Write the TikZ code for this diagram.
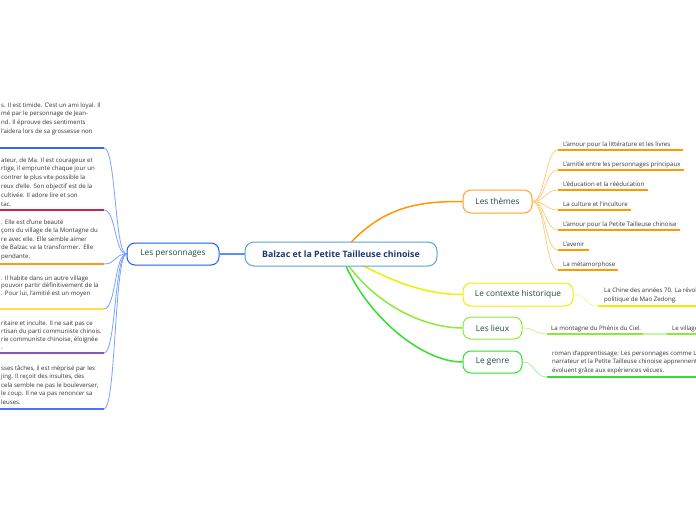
\documentclass[tikz,border=0pt]{standalone}
\usepackage{fontspec}
\setmainfont{Open Sans}
\usetikzlibrary{backgrounds}
\definecolor{leafgray}{HTML}{333333}
\definecolor{brtext}{HTML}{1E4D3B}
\definecolor{maintext}{HTML}{1C3A6E}
\definecolor{mainblue}{HTML}{5BA3E0}
\definecolor{persblue}{HTML}{1A5CFF}
\definecolor{persline}{HTML}{5B8FF0}
\definecolor{leftconn}{HTML}{7AA2FF}
\definecolor{thmorange}{HTML}{FFA424}
\definecolor{orangeul}{HTML}{FF9900}
\definecolor{orangelight}{HTML}{FFCF80}
\definecolor{ctxyellow}{HTML}{EEF000}
\definecolor{yellowlight}{HTML}{F2F7A0}
\definecolor{lieuxgreen}{HTML}{8FE83C}
\definecolor{lieuxlight}{HTML}{C8F5A0}
\definecolor{genregreen}{HTML}{33DD33}
\definecolor{genrelight}{HTML}{A8F0A8}
\definecolor{ulblue}{HTML}{3366FF}
\definecolor{ulred}{HTML}{CC2244}
\definecolor{ulorange}{HTML}{FF9922}
\definecolor{ulyellow}{HTML}{FFE040}
\definecolor{ulpurple}{HTML}{8855BB}
\definecolor{ulblue2}{HTML}{4477FF}
\begin{document}
\begin{tikzpicture}[x=1pt,y=-1pt,
  lf/.style={font=\fontsize{6.1}{7.5}\selectfont, text=leafgray, inner sep=0pt, anchor=base west},
  br/.style={draw, rounded corners=8pt, fill=white, line width=1pt, font=\fontsize{8.3}{10}\selectfont, text=brtext, inner sep=0pt},
  mainbox/.style={draw=mainblue, rounded corners=9pt, fill=white, line width=1pt, font=\bfseries\fontsize{8.8}{11}\selectfont, text=maintext, inner sep=0pt, minimum width=192pt, minimum height=24pt},
  ul/.style={line width=1.8pt},
  cn/.style={line width=0.8pt},
  mc/.style={line width=1.5pt}]
\useasboundingbox (0,0) rectangle (696,520);

% nodes
\node[mainbox] (main) at (341,254) {Balzac et la Petite Tailleuse chinoise};
\node[br, draw=persblue, minimum width=92pt, minimum height=22pt] (pers) at (173,254) {Les personnages};
\node[br, draw=thmorange, minimum width=69pt, minimum height=23pt] (thm) at (497.5,201.5) {Les thèmes};
\node[br, draw=ctxyellow, minimum width=110pt, minimum height=23pt] (ctx) at (518,294.5) {Le contexte historique};
\node[br, draw=lieuxgreen, minimum width=59pt, minimum height=22pt] (lieux) at (492.5,328) {Les lieux};
\node[br, draw=genregreen, minimum width=59pt, minimum height=22pt] (genre) at (492.5,362) {Le genre};

% left blocks
\foreach \t [count=\i] in {{s. Il est timide. C'est un ami loyal. Il},{mé par le personnage de Jean-},{nd. Il éprouve des sentiments},{l'aidera lors de sa grossesse non}}
  \node[lf] (a\i) at (1,{107+(\i-1)*8.8}) {\t};
\foreach \t [count=\i] in {{ateur, de Ma. Il est courageux et},{rtige, il emprunte chaque jour un},{contrer le plus vite possible la},{reux d'elle. Son objectif est de la},{ cultivée. Il adore lire et son},{tac.}}
  \node[lf] (b\i) at (1,{162+(\i-1)*8.8}) {\t};
\foreach \t [count=\i] in {{. Elle est d'une beauté},{çons du village de la Montagne du},{re avec elle. Elle semble aimer},{de Balzac va la transformer.\ \ Elle},{pendante.}}
  \node[lf] (c\i) at (1,{224+(\i-1)*8.6}) {\t};
\foreach \t [count=\i] in {{. Il habite dans un autre village},{pouvoir partir définitivement de la},{. Pour lui, l'amitié est un moyen}}
  \node[lf] (d\i) at (1,{280+(\i-1)*7.8}) {\t};
\foreach \t [count=\i] in {{ritaire et inculte. Il ne sait pas ce},{rtisan du parti communiste chinois.},{rie communiste chinoise, éloignée},{.}}
  \node[lf] (e\i) at (1,{325+(\i-1)*8}) {\t};
\foreach \t [count=\i] in {{sses tâches, il est méprisé par les},{jing. Il reçoit des insultes, des},{ cela semble ne pas le bouleverser,},{ le coup. Il ne va pas renoncer sa},{leuses.}}
  \node[lf] (f\i) at (1,{370+(\i-1)*8.5}) {\t};

% themes leaves
\foreach \t/\y [count=\i] in {L'amour pour la littérature et les livres/150,L'amitié entre les personnages principaux/170,L'éducation et la rééducation/190,La culture et l'inculture/210,L'amour pour la Petite Tailleuse chinoise/230,L'avenir/250,La métamorphose/270}
  \node[lf] (th\i) at (563,{\y-4}) {\t};

% contexte
\node[lf] (ctx1) at (604,292.5) {La Chine des années 70. La révolution};
\node[lf] (ctx2) at (604,301.5) {politique de Mao Zedong.};
% lieux
\node[lf] (li1) at (551,330.5) {La montagne du Phénix du Ciel.};
\node[lf] (li2) at (672,330.5) {Le village};
% genre
\node[lf] (ge1) at (552,355.5) {roman d'apprentissage: Les personnages comme Luo, le};
\node[lf] (ge2) at (552,363.8) {narrateur et la Petite Tailleuse chinoise apprennent et};
\node[lf] (ge3) at (552,372) {évoluent grâce aux expériences vécues.};

\begin{scope}[on background layer]
\fill[white] (0,0) rectangle (696,520);
% main connectors
\draw[mc, persline] (main.west) -- (pers.east);
\draw[mc, orangeul] (main.center) .. controls (380,205) and (420,201.5) .. (thm.west);
\draw[mc, ctxyellow] (main.center) .. controls (385,278) and (420,294.5) .. (ctx.west);
\draw[mc, lieuxgreen] (main.center) .. controls (368,300) and (420,328) .. (lieux.west);
\draw[mc, genregreen] (main.center) .. controls (362,312) and (420,362) .. (genre.west);

% left underlines and connectors
\foreach \y/\c [count=\i] in {148/ulblue,210/ulred,264/ulorange,309/ulyellow,353/ulpurple,409/ulblue2}{
  \coordinate (lu\i) at (104,\y);
  \draw[ul, \c] (0,\y) -- (lu\i);
  \draw[cn, leftconn] (pers.west) .. controls +(-12,0) and +(12,0) .. (lu\i);
}
% theme underlines and connectors
\foreach \e/\y [count=\i] in {683/150,684/170,648/190,631/210,680/230,589/250,618/270}{
  \coordinate (tu\i) at (558,\y);
  \draw[ul, orangeul] (tu\i) -- (\e,\y);
  \draw[cn, orangelight] (thm.east) .. controls +(13,0) and +(-13,0) .. (tu\i);
}
% contexte
\coordinate (cu) at (598,306);
\draw[ul, ctxyellow] (cu) -- (700,306);
\draw[cn, yellowlight] (ctx.east) .. controls +(13,0) and +(-13,0) .. (cu);
% lieux
\coordinate (lu) at (547,334);
\coordinate (lue) at (643,334);
\coordinate (lv) at (667,334);
\draw[ul, lieuxgreen] (lu) -- (lue);
\draw[cn, lieuxlight] (lieux.east) .. controls +(13,0) and +(-13,0) .. (lu);
\draw[cn, lieuxlight, line width=1.2pt] (lue) -- (lv);
\draw[ul, lieuxgreen] (lv) -- (700,334);
% genre
\coordinate (gu) at (547,377);
\draw[ul, genregreen] (gu) -- (700,377);
\draw[cn, genrelight] (genre.east) .. controls +(13,0) and +(-13,0) .. (gu);
\end{scope}
\end{tikzpicture}
\end{document}
